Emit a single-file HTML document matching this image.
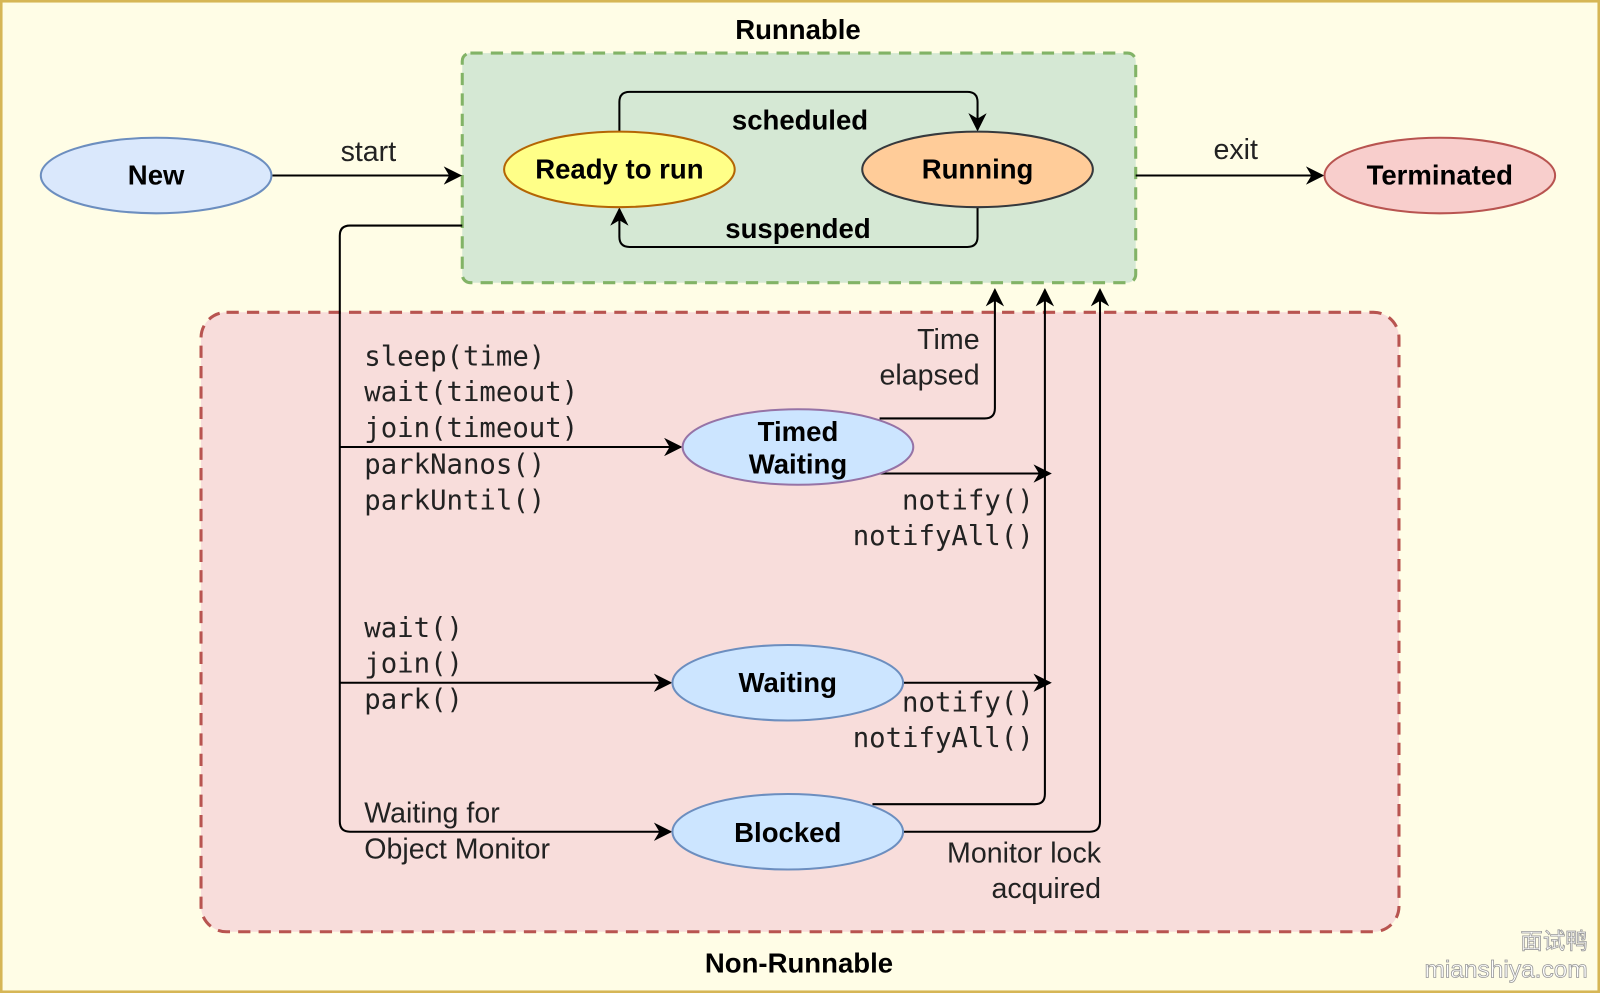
<!DOCTYPE html>
<html><head><style>html,body{margin:0;padding:0;background:#fffde6}</style></head><body>
<svg width="1600" height="993" viewBox="0 0 1568 973" preserveAspectRatio="none" xmlns="http://www.w3.org/2000/svg" font-family="Liberation Sans, sans-serif" style="display:block">
<defs><marker id="a" viewBox="0 0 10 10" refX="9" refY="5" markerWidth="9" markerHeight="9" orient="auto-start-reverse"><path d="M0,0 L10,5 L0,10 L3,5 z" fill="#000"/></marker></defs>
<rect x="1" y="1" width="1566" height="971" fill="#fffde6" stroke="#d6b656" stroke-width="3"/>
<rect x="453" y="52" width="660" height="225" rx="8" fill="#d5e8d4" stroke="#82b366" stroke-width="3" stroke-dasharray="12,8"/>
<rect x="197" y="306" width="1174" height="607" rx="25" fill="#f8dddb" stroke="#b85450" stroke-width="3" stroke-dasharray="12,8"/>
<g fill="none" stroke="#000" stroke-width="2">
<path d="M267,172 H451" marker-end="url(#a)"/>
<path d="M1113,172 H1296" marker-end="url(#a)"/>
<path d="M607,129 V100 Q607,90 617,90 H948 Q958,90 958,100 V127" marker-end="url(#a)"/>
<path d="M958,203 V232 Q958,242 948,242 H617 Q607,242 607,232 V205" marker-end="url(#a)"/>
<path d="M453,221 H343 Q333,221 333,231 V805 Q333,815 343,815 H657" marker-end="url(#a)"/>
<path d="M333,438 H667" marker-end="url(#a)"/>
<path d="M333,669 H657" marker-end="url(#a)"/>
<path d="M862,410 H965 Q975,410 975,400 V284" marker-end="url(#a)"/>
<path d="M862,464 H1029" marker-end="url(#a)"/>
<path d="M885,669 H1029" marker-end="url(#a)"/>
<path d="M855,788 H1014 Q1024,788 1024,778 V284" marker-end="url(#a)"/>
<path d="M885,815 H1068 Q1078,815 1078,805 V284" marker-end="url(#a)"/>
</g>
<ellipse cx="153" cy="172" rx="113" ry="37" fill="#dae8fc" stroke="#6c8ebf" stroke-width="2"/>
<ellipse cx="1411" cy="172" rx="113" ry="37" fill="#f8cecc" stroke="#b85450" stroke-width="2"/>
<ellipse cx="607" cy="166" rx="113" ry="37" fill="#ffff88" stroke="#b46504" stroke-width="2"/>
<ellipse cx="958" cy="166" rx="113" ry="37" fill="#ffcc99" stroke="#36393d" stroke-width="2"/>
<ellipse cx="782" cy="438" rx="113" ry="37" fill="#cce5ff" stroke="#9673a6" stroke-width="2"/>
<ellipse cx="772" cy="669" rx="113" ry="37" fill="#cce5ff" stroke="#6c8ebf" stroke-width="2"/>
<ellipse cx="772" cy="815" rx="113" ry="37" fill="#cce5ff" stroke="#6c8ebf" stroke-width="2"/>
<g font-weight="bold" font-size="27" text-anchor="middle" fill="#000">
<text x="782" y="38">Runnable</text>
<text x="783" y="953">Non-Runnable</text>
<text x="153" y="181">New</text>
<text x="1411" y="181">Terminated</text>
<text x="607" y="175">Ready to run</text>
<text x="958" y="175">Running</text>
<text x="782" y="432">Timed</text>
<text x="782" y="464">Waiting</text>
<text x="772" y="678">Waiting</text>
<text x="772" y="825">Blocked</text>
<text x="784" y="127">scheduled</text>
<text x="782" y="233">suspended</text>
</g>
<g font-size="28" fill="#222">
<text x="361" y="158" text-anchor="middle">start</text>
<text x="1211" y="156" text-anchor="middle">exit</text>
<text x="960" y="342" text-anchor="end">Time</text>
<text x="960" y="377" text-anchor="end">elapsed</text>
<text x="357" y="806">Waiting for</text>
<text x="357" y="841">Object Monitor</text>
<text x="1079" y="845" text-anchor="end">Monitor lock</text>
<text x="1079" y="880" text-anchor="end">acquired</text>
</g>
<g font-family="DejaVu Sans Mono, monospace" font-size="26.8" fill="#222">
<text x="357" y="358">sleep(time)</text>
<text x="357" y="393">wait(timeout)</text>
<text x="357" y="428">join(timeout)</text>
<text x="357" y="464">parkNanos()</text>
<text x="357" y="499">parkUntil()</text>
<text x="1013" y="499" text-anchor="end">notify()</text>
<text x="1013" y="534" text-anchor="end">notifyAll()</text>
<text x="357" y="624">wait()</text>
<text x="357" y="659">join()</text>
<text x="357" y="694">park()</text>
<text x="1013" y="697" text-anchor="end">notify()</text>
<text x="1013" y="732" text-anchor="end">notifyAll()</text>
</g>
<g fill="#fff" stroke="#999" stroke-width="0.8" text-anchor="end">
<text x="1556" y="930" font-size="22" font-family="Noto Sans CJK SC, sans-serif">面试鸭</text>
<text x="1556" y="958" font-size="24">mianshiya.com</text>
</g>
</svg>
</body></html>
